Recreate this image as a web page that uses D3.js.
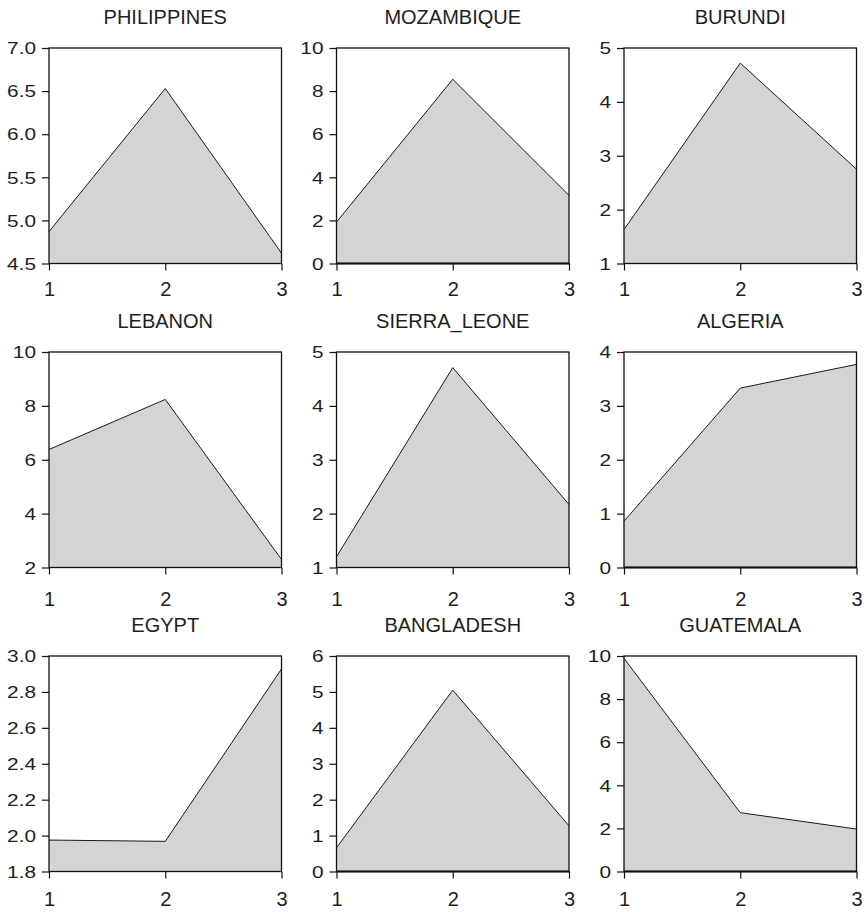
<!DOCTYPE html>
<html>
<head>
<meta charset="utf-8">
<script src="https://cdn.jsdelivr.net/npm/d3@7"></script>
<style>
  html, body { margin: 0; padding: 0; background: #fff; }
  svg { display: block; }
</style>
</head>
<body>
<svg id="chart" width="866" height="912"></svg>
<script>
// Nine small area panels, one per country, three periods each.
const countries = ["PHILIPPINES", "MOZAMBIQUE", "BURUNDI",
                   "LEBANON", "SIERRA_LEONE", "ALGERIA",
                   "EGYPT", "BANGLADESH", "GUATEMALA"];
const periods = [1, 2, 3];

const philippines = [4.87, 6.53, 4.62];
const mozambique  = [1.92, 8.55, 3.16];
const burundi     = [1.63, 4.72, 2.75];
const lebanon     = [6.38, 8.24, 2.30];
const sierraLeone = [1.20, 4.71, 2.17];
const algeria     = [0.86, 3.33, 3.77];
const egypt       = [1.975, 1.968, 2.928];
const bangladesh  = [0.66, 5.05, 1.27];
const guatemala   = [9.89, 2.73, 1.97];
const seriesValues = [philippines, mozambique, burundi, lebanon, sierraLeone,
                      algeria, egypt, bangladesh, guatemala];

// Value axis of each panel: lower bound, upper bound, tick step, decimals.
const axisMin      = [4.5, 0, 1, 2, 1, 0, 1.8, 0, 0];
const axisMax      = [7.0, 10, 5, 10, 5, 4, 3.0, 6, 10];
const axisStep     = [0.5, 2, 1, 2, 1, 1, 0.2, 1, 2];
const axisDecimals = [1, 0, 0, 0, 0, 0, 1, 0, 0];

// Layout
const svg = d3.select("#chart");
const left0 = 49, colStep = 287.5;
const top0 = 48, rowStep = 304;
const pw = 232.5, ph = 215.5;
const xLabelBaseline = [32, 38, 34];
const fontFamily = "'Liberation Sans', Arial, Helvetica, sans-serif";
const textColor = "#1e1e1e";

countries.forEach((name, k) => {
  const col = k % 3, row = Math.floor(k / 3);
  const g = svg.append("g")
    .attr("transform", `translate(${left0 + col * colStep},${top0 + row * rowStep})`);

  const x = d3.scaleLinear().domain([periods[0], periods[periods.length - 1]]).range([0, pw]);
  const y = d3.scaleLinear().domain([axisMin[k], axisMax[k]]).range([ph, 0]);
  const vals = seriesValues[k];

  const area = d3.area()
    .x((d, i) => x(periods[i]))
    .y0(ph)
    .y1(d => y(d));
  const line = d3.line()
    .x((d, i) => x(periods[i]))
    .y(d => y(d));

  g.append("path").datum(vals)
    .attr("d", area)
    .attr("fill", "#d3d4d6")
    .attr("stroke", "none");

  g.append("path").datum(vals)
    .attr("d", line)
    .attr("fill", "none")
    .attr("stroke", "#1a1a1a")
    .attr("stroke-width", 1);

  // zero reference line
  if (axisMin[k] <= 0 && axisMax[k] >= 0) {
    g.append("line")
      .attr("x1", 0).attr("x2", pw)
      .attr("y1", y(0)).attr("y2", y(0))
      .attr("stroke", "#111").attr("stroke-width", 2);
  }

  g.append("rect")
    .attr("x", 0).attr("y", 0).attr("width", pw).attr("height", ph)
    .attr("fill", "none")
    .attr("stroke", "#111")
    .attr("stroke-width", 1.3);

  // value axis
  const ticks = d3.range(axisMin[k], axisMax[k] + axisStep[k] / 2, axisStep[k]);
  const yAxis = d3.axisLeft(y)
    .tickValues(ticks)
    .tickSize(7)
    .tickFormat(d3.format(`.${axisDecimals[k]}f`));
  const ya = g.append("g").call(yAxis);
  ya.select(".domain").remove();
  ya.selectAll(".tick line").attr("stroke", "#111").attr("stroke-width", 1.2);
  ya.selectAll(".tick text")
    .attr("x", 0)
    .attr("dy", "0.36em")
    .attr("transform", "translate(-13,0) scale(1.3,1)")
    .attr("fill", textColor)
    .style("font-family", fontFamily)
    .style("font-size", "16px");

  // period axis
  const xAxis = d3.axisBottom(x)
    .tickValues(periods)
    .tickSize(7)
    .tickFormat(d3.format("d"));
  const xa = g.append("g").attr("transform", `translate(0,${ph})`).call(xAxis);
  xa.select(".domain").remove();
  xa.selectAll(".tick line").attr("stroke", "#111").attr("stroke-width", 1.2);
  xa.selectAll(".tick text")
    .attr("y", xLabelBaseline[row])
    .attr("dy", 0)
    .attr("transform", null)
    .attr("fill", textColor)
    .style("font-family", fontFamily)
    .style("font-size", "20px");

  // panel title
  g.append("text")
    .attr("x", pw / 2)
    .attr("y", -24)
    .attr("text-anchor", "middle")
    .attr("fill", textColor)
    .style("font-family", fontFamily)
    .style("font-size", "20px")
    .text(name);
});
</script>
</body>
</html>
